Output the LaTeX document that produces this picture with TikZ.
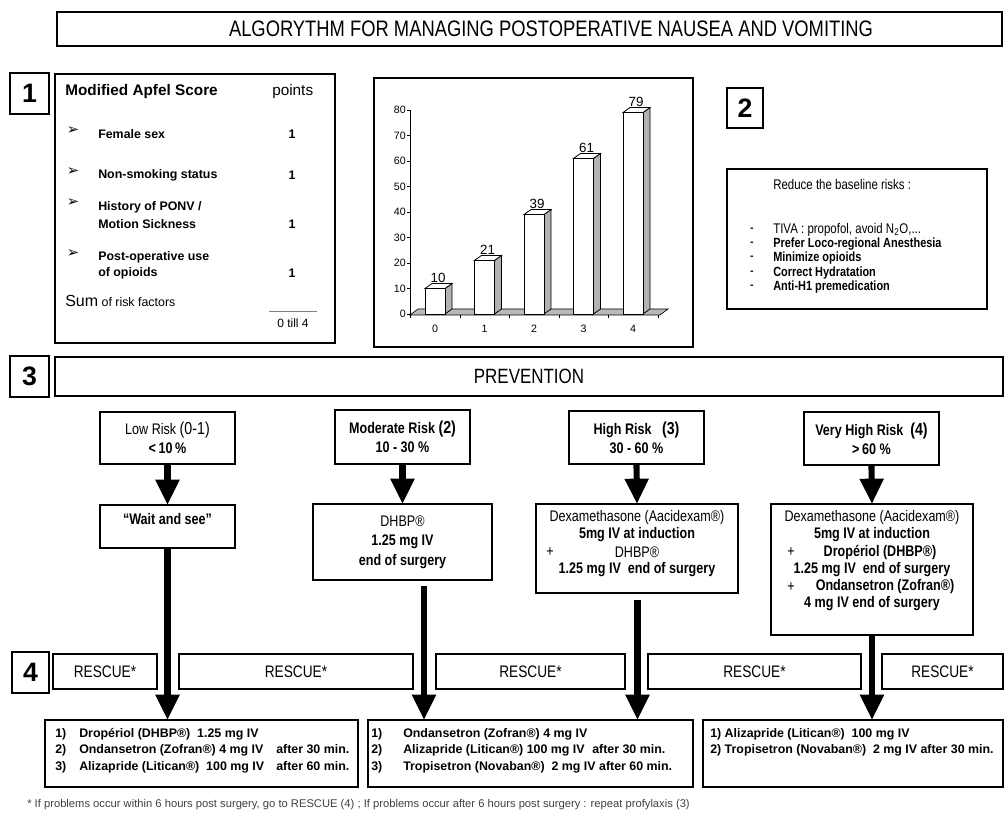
\documentclass[tikz,border=0pt]{standalone}
\usepackage{fontspec}
\setmainfont{Liberation Sans}
\newfontfamily\nf[FakeStretch=0.82]{Liberation Sans}
\newfontfamily\djv{DejaVu Sans}
\usetikzlibrary{arrows.meta}
\begin{document}
\begin{tikzpicture}[x=0.75pt,y=-0.75pt,
  corners/.style n args={4}{minimum width={(#3-#1)*0.75pt}, minimum height={(#4-#2)*0.75pt}, at={({(#1+#3)/2},{(#2+#4)/2})}},
  box/.style={draw, line width=0.8pt, inner sep=0pt, outer sep=0pt, align=center},
  numbox/.style={box, font=\bfseries\fontsize{20}{20}\selectfont},
  bigarrow/.style={line width=4.6pt, -{Triangle[width=17pt,length=19pt]}},
  tx/.style={inner sep=0pt, anchor=west},
  apf/.style={tx, font=\bfseries\fontsize{9.3}{11}\selectfont},
  red/.style={tx, font=\nf\bfseries\fontsize{10}{12}\selectfont},
  riskf/.style={font=\nf\fontsize{11.5}{14.5}\selectfont},
  riskb/.style={font=\nf\bfseries\fontsize{11.5}{14.5}\selectfont},
  resc/.style={box, font=\nf\fontsize{12.5}{14}\selectfont},
  bt/.style={inner sep=0pt, anchor=base west, font=\bfseries\fontsize{9.3}{11}\selectfont},
  ax/.style={inner sep=0pt, font=\fontsize{8}{9}\selectfont},
]
\useasboundingbox (0,0) rectangle (1004,816);

% title
\node[box, corners={57}{12}{1002}{46}] (title) {};
\node[inner sep=0pt, font=\nf\fontsize{16.8}{18}\selectfont] (ttext) at (551,29) {ALGORYTHM FOR MANAGING POSTOPERATIVE NAUSEA AND VOMITING};

% section 1
\node[numbox, corners={10}{73}{49}{114}] (n1) {1};
\node[box, corners={55}{74}{335}{343}] (apfel) {};
\node[tx, font=\bfseries\fontsize{11.5}{13}\selectfont] (ah) at (65,92) {Modified Apfel Score};
\node[tx, font=\fontsize{11.5}{13}\selectfont] (ap) at (272,92) {points};
\foreach \y/\n in {131/b1,172/b2,203/b3,254/b4}
  \node[inner sep=0pt, font=\djv\fontsize{11}{11}\selectfont] (\n) at (73,\y) {\char"27A2};
\node[apf] (i1) at (98,134) {Female sex};
\node[apf] (i2) at (98,175) {Non-smoking status};
\node[apf] (i3) at (98,207) {History of PONV /};
\node[apf] (i3b) at (98,224) {Motion Sickness};
\node[apf] (i4) at (98,257) {Post-operative use};
\node[apf] (i4b) at (98,273) {of opioids};
\foreach \y/\n in {134/p1,175/p2,224/p3,273/p4}
  \node[inner sep=0pt, font=\bfseries\fontsize{9.3}{11}\selectfont] (\n) at (292,\y) {1};
\node[tx, anchor=base west, font=\fontsize{9.3}{11}\selectfont] (sum) at (65,307) {{\fontsize{12}{13}\selectfont Sum} of risk factors};
\draw[line width=0.5pt, gray] (269,311) -- (317,311);
\node[inner sep=0pt, font=\fontsize{9}{11}\selectfont] (till) at (293,323) {0 till 4};

% chart
\node[box, corners={374}{78}{693}{347}] (chart) {};
\draw[line width=0.6pt] (410,110) -- (410,314);
\foreach \t in {0,10,...,80} {
  \draw[line width=0.5pt] (407,{314-2.55*\t}) -- (410,{314-2.55*\t});
  \node[ax, anchor=east] at (406,{314-2.55*\t}) {\t};
}
\draw[line width=0.5pt, fill=gray!55] (410,315) -- (660,315) -- (668,309) -- (418,309) -- cycle;
\foreach \xx in {410,460,509,559,608,658}
  \draw[line width=0.5pt] (\xx,315) -- (\xx,318);
\foreach \v [count=\i from 0] in {10,21,39,61,79} {
  \pgfmathsetmacro{\c}{435+49.5*\i}
  \pgfmathsetmacro{\yt}{314-2.55*\v}
  \draw[line width=0.6pt, fill=gray!60] (\c+10,314) -- (\c+10,\yt) -- (\c+17,\yt-5) -- (\c+17,309) -- cycle;
  \draw[line width=0.6pt, fill=white] (\c-10,\yt) rectangle (\c+10,314);
  \draw[line width=0.6pt, fill=white] (\c-10,\yt) -- (\c+10,\yt) -- (\c+17,\yt-5) -- (\c-3,\yt-5) -- cycle;
  \node[inner sep=0pt, anchor=south, font=\fontsize{10}{11}\selectfont] at (\c+3,\yt-6) {\v};
  \node[ax] at (\c,329) {\i};
}

% section 2
\node[numbox, corners={727}{88}{763}{128}] (n2) {2};
\node[box, corners={727}{169}{987}{309}] (reduce) {};
\node[tx, font=\nf\fontsize{10.5}{12}\selectfont] (rh) at (773,185) {Reduce the baseline risks :};
\foreach \y in {230,244,258,273,287}
  \node[inner sep=0pt, font=\bfseries\fontsize{8}{8}\selectfont] at (752,\y) {-};
\node[tx, font=\nf\fontsize{10.5}{12}\selectfont] (r1) at (773,230) {TIVA : propofol, avoid N\textsubscript{2}O,...};
\node[red] (r2) at (773,244) {Prefer Loco-regional Anesthesia};
\node[red] (r3) at (773,258) {Minimize opioids};
\node[red] (r4) at (773,273) {Correct Hydratation};
\node[red] (r5) at (773,287) {Anti-H1 premedication};

% section 3
\node[numbox, corners={10}{356}{49}{397}] (n3) {3};
\node[box, corners={55}{357}{1003}{396}, font=\nf\fontsize{15.5}{17}\selectfont] (prev) {PREVENTION};

\node[box, corners={100}{412}{235}{464}, riskf] (low) {Low Risk {\fontsize{13}{13}\selectfont(0-1)}\\ {\bfseries <\,10\,\%}};
\node[box, corners={335}{410}{470}{464}, riskb] (mod) {Moderate Risk {\fontsize{13}{13}\selectfont(2)}\\ 10 - 30 \%};
\node[box, corners={569}{411}{704}{464}, riskb] (high) {High Risk\ \ \ {\fontsize{13}{13}\selectfont(3)}\\ 30 - 60 \%};
\node[box, corners={804}{412}{939}{465}, riskb] (vh) {Very High Risk\ \ {\fontsize{13}{13}\selectfont(4)}\\ >\,60 \%};

\node[box, corners={100}{505}{235}{548}] (wait) {};
\node[inner sep=0pt, riskb] at (167.5,519) {“Wait and see”};
\node[box, corners={313}{504}{492}{580}, riskf] (dhbp) {DHBP\textregistered\\ {\bfseries 1.25 mg IV}\\ {\bfseries end of surgery}};
\node[box, corners={536}{504}{738}{593}] (dexa) {};
\node[inner sep=0pt, riskf] at (637,518) {Dexamethasone (Aacidexam\textregistered)};
\node[inner sep=0pt, riskb] at (637,535) {5mg IV at induction};
\node[inner sep=0pt, riskf] at (550,552) {+};
\node[inner sep=0pt, riskf] at (637,552) {DHBP\textregistered};
\node[inner sep=0pt, riskb] at (637,570) {1.25 mg IV\ \ end of surgery};
\node[box, corners={771}{504}{973}{635}] (vhdexa) {};
\node[inner sep=0pt, riskf] at (872,518) {Dexamethasone (Aacidexam\textregistered)};
\node[inner sep=0pt, riskb] at (872,535) {5mg IV at induction};
\node[inner sep=0pt, riskf] at (791,552) {+};
\node[inner sep=0pt, riskb] at (880,552) {Drop\'eriol (DHBP\textregistered)};
\node[inner sep=0pt, riskb] at (872,570) {1.25 mg IV\ \ end of surgery};
\node[inner sep=0pt, riskf] at (791,587) {+};
\node[inner sep=0pt, riskb] at (885,587) {Ondansetron (Zofran\textregistered)};
\node[inner sep=0pt, riskb] at (872,604) {4 mg IV end of surgery};

\draw[bigarrow] (low.south) -- (wait.north);
\draw[bigarrow] (mod.south) -- (dhbp.north);
\draw[bigarrow] (high.south) -- (dexa.north);
\draw[bigarrow] (vh.south) -- (vhdexa.north);

% section 4
\node[numbox, corners={12}{652}{49}{693}] (n4) {4};
\node[resc, corners={53}{654}{157}{689}] (rs1) {RESCUE*};
\node[resc, corners={179}{654}{413}{689}] (rs2) {RESCUE*};
\node[resc, corners={436}{654}{625}{689}] (rs3) {RESCUE*};
\node[resc, corners={648}{654}{861}{689}] (rs4) {RESCUE*};
\node[resc, corners={882}{654}{1003}{689}] (rs5) {RESCUE*};

\node[box, corners={45}{720}{358}{787}] (bx1) {};
\node[box, corners={368}{720}{693}{787}] (bx2) {};
\node[box, corners={703}{720}{1003}{787}] (bx3) {};

\coordinate (s1) at (wait.south);
\coordinate (s2) at ([shift={(21.5,6)}]dhbp.south);
\coordinate (s3) at ([shift={(0.5,7)}]dexa.south);
\coordinate (s4) at (vhdexa.south);
\draw[bigarrow] (s1) -- (s1 |- bx1.north);
\draw[bigarrow] (s2) -- (s2 |- bx2.north);
\draw[bigarrow] (s3) -- (s3 |- bx2.north);
\draw[bigarrow] (s4) -- (s4 |- bx3.north);

\node[bt] at (55,737) {1)};
\node[bt] at (55,753) {2)};
\node[bt] at (55,770) {3)};
\node[bt] at (79,737) {Drop\'eriol (DHBP\textregistered)\ \ 1.25 mg IV};
\node[bt] at (79,753) {Ondansetron (Zofran\textregistered) 4 mg IV};
\node[bt] at (79,770) {Alizapride (Litican\textregistered)\ \ 100 mg IV};
\node[bt] at (276,753) {after 30 min.};
\node[bt] at (276,770) {after 60 min.};

\node[bt] at (371,737) {1)};
\node[bt] at (371,753) {2)};
\node[bt] at (371,770) {3)};
\node[bt] at (403,737) {Ondansetron (Zofran\textregistered) 4 mg IV};
\node[bt] at (403,753) {Alizapride (Litican\textregistered) 100 mg IV};
\node[bt] at (592,753) {after 30 min.};
\node[bt] at (403,770) {Tropisetron (Novaban\textregistered)\ \ 2 mg IV after 60 min.};

\node[bt] at (710,737) {1) Alizapride (Litican\textregistered)\ \ 100 mg IV};
\node[bt] at (710,753) {2) Tropisetron (Novaban\textregistered)\ \ 2 mg IV after 30 min.};

\node[tx, font=\fontsize{8.4}{9}\selectfont, text=black!75] (foot) at (27,805) {* If problems occur within 6 hours post surgery, go to RESCUE (4) ; If problems occur after 6 hours post surgery : repeat profylaxis (3)};
\end{tikzpicture}
\end{document}
